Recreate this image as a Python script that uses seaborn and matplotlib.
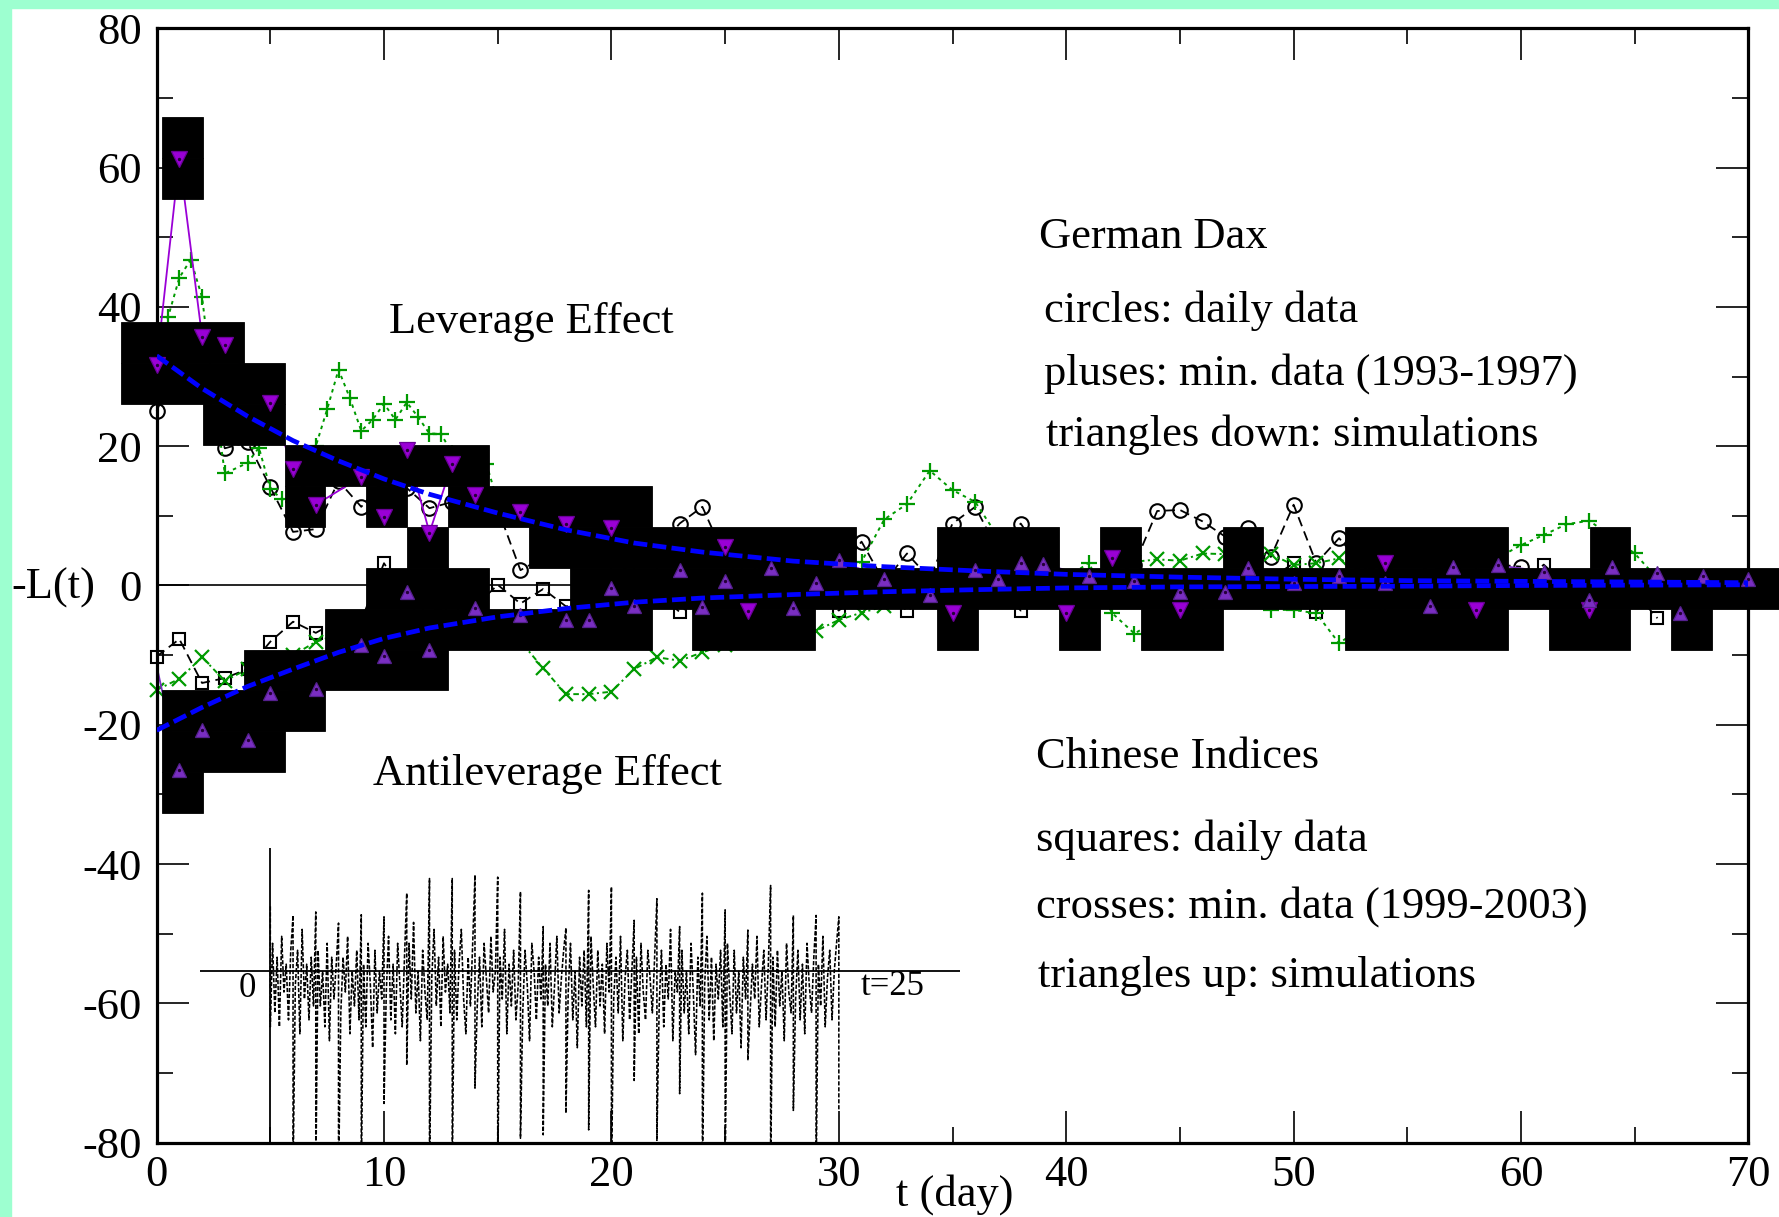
import matplotlib
matplotlib.use("Agg")
import matplotlib.pyplot as plt
from matplotlib.ticker import MultipleLocator
from matplotlib.patches import Rectangle
import numpy as np
import seaborn as sns

# ---------------- values ----------------
# German DAX, daily data (circles)
dax_daily_t = list(range(0, 61))
dax_daily_y = [25.1, 32, 30, 19.7, 20.6, 14.1, 7.7, 8.1, 15, 11.3,
               15, 14, 11.1, 12, 13, 11, 2.2, 4, 5, 4,
               5, 4, 5, 8.9, 11.3, 4, 3, 2, 3, 4,
               2, 6.3, 0.5, 4.6, 1, 8.9, 11.3, 5, 8.9, 4,
               1, 0, 2, 3, 10.7, 10.85, 9.2, 7.0, 8.2, 4.1,
               11.6, 3.2, 6.8, 3, 2, 4, 2, 3, 5, 3, 2.7]

# German DAX, minute data 1993-1997 (pluses)
dax_min_t = [0, 0.5, 1, 1.5, 2, 2.5, 3, 4, 4.5, 5, 5.5, 6, 6.5, 7, 7.5, 8,
             8.5, 9, 9.5, 10, 10.5, 11, 11.5, 12, 12.5, 13, 13.5, 14, 14.5,
             15] + list(range(16, 67))
dax_min_y = [33, 38.5, 44.2, 46.8, 41.4, 28, 16.1, 17.6, 19.8, 13.9, 12.4,
             12, 15, 20, 25.3, 31.0, 26.9, 22.2, 23.8, 26.1, 23.8, 26.3,
             24.2, 21.8, 21.8, 19, 18, 18, 17.5, 12,
             10, 7, 5, 4, 3, 2, 2, 1, 1, 0,
             0, 1, 0, 1, 2, 3.4, 9.5, 11.7, 16.5, 13.7,
             12.0, 7, 5, 3, 1, 3.3, -3.9, -6.9, -5, -3,
             -3, -1, -2, -3.5, -3.5, -4.0, -8.3, -6, -3, -1,
             0, 1, 2, 4, 5.8, 7.25, 8.8, 9.3, 7, 4.6,
             1]

# Chinese indices, daily data (squares)
cn_daily_t = list(range(0, 67))
cn_daily_y = [-10.2, -7.7, -14, -13.3, -12, -8.07, -5.2, -6.8, -5, -5,
              3.2, -2, -3, -4, -3, 0.1, -2.6, -0.5, -3.0, -2,
              -1, -2, -1, -3.8, -2, -1, -2, -1, -2, -1,
              -3.6, -1, 0, -3.7, -1, -2, -1, 0, -3.6, -1,
              0, -1, 0, -1, 0, 1, 0, -1, 0, 1,
              3.2, -3.8, 0, -1, 0, 1, 0, -1, 0, 1,
              0, 3.0, 0, -1, 0, -1, -4.7]

# Chinese indices, minute data 1999-2003 (crosses)
cn_min_t = list(range(0, 62))
cn_min_y = [-15, -13.4, -10.3, -13.7, -12, -11, -10, -8.1, -7, -6,
            -5, -6, -6, -6, -7, -6, -8, -11.9, -15.6, -15.6,
            -15.25, -12.0, -10.3, -10.8, -9.6, -8.5, -8, -7.5, -7, -6.5,
            -4.95, -3.9, -3.0, -2, -1, 0, 1, 2, 2, 1,
            0, 1, 2.5, 3.4, 3.75, 3.56, 4.6, 4.5, 4.5, 4.5,
            2.95, 3.2, 3.9, 2, 0, -1, 0, 1, 0, -1,
            0, 0]

# simulations for DAX (triangles down)
sim_down_t = [0, 1, 2, 3, 5, 6, 7, 9, 10, 11, 12, 13, 14, 16, 18, 20, 25, 26,
              35, 40, 42, 45, 54, 58, 63]
sim_down_y = [31.7, 61.3, 35.7, 34.6, 26.25, 16.8, 11.6, 15.6, 9.9, 19.5, 7.6,
              17.5, 13.0, 10.6, 8.9, 8.2, 5.6, -3.6,
              -3.9, -4.0, 4.0, -3.5, 3.3, -3.5, -3.5]
sim_down_line_n = 18          # the purple line joins the first 18 points

# simulations for Chinese indices (triangles up)
sim_up_t = [0, 1, 2, 4, 5, 7, 9, 10, 11, 12, 14, 16, 18, 19, 20, 21, 23, 24,
            25, 27, 28, 29, 30, 32, 34, 36, 37, 38, 39, 41, 43, 45, 47, 48,
            50, 52, 54, 56, 57, 59, 61, 63, 64, 66, 67, 68, 70]
sim_up_y = [-11.5, -26.5, -20.8, -22.2, -15.5, -14.8, -8.5, -10.1, -0.9, -9.3,
            -3.3, -4.2, -5.0, -5.0, -0.3, -3.0, 2.2, -3.1, 0.7, 2.5,
            -3.3, 0.3, 3.6, 1.0, -1.4, 2.2, 1.0, 3.2, 3.1, 1.3,
            0.6, -0.9, -0.9, 2.5, 0.3, 1.4, 0.3, -3.0, 2.7, 2.9,
            2.0, -2.1, 2.7, 1.75, -4.0, 1.4, 1.0]

# dashed blue fit curves, read at these days
fit_t = [0, 2, 4, 6, 8, 10, 12, 15, 18, 21, 24, 28, 32, 36, 40, 45, 50, 55,
         60, 65, 70]
lev_fit_y = [33.0, 28.3, 24.3, 20.8, 17.9, 15.3, 13.1, 10.4, 8.0, 6.1, 4.8,
             3.5, 2.7, 2.1, 1.6, 1.2, 0.9, 0.7, 0.6, 0.5, 0.4]
anti_fit_y = [-20.8, -17.5, -14.5, -12.0, -9.6, -7.6, -6.1, -4.5, -3.3, -2.4,
              -1.8, -1.3, -0.9, -0.6, -0.35, -0.2, -0.15, -0.1, 0.0, 0.05, 0.1]

# black tiles of the picture: (row, first column, last column) of a tile grid
tile_runs = [(0, 1, 1), (1, 1, 1), (5, 0, 2), (6, 0, 3), (7, 2, 3), (8, 4, 8),
             (9, 4, 4), (9, 6, 6), (9, 8, 12),
             (10, 7, 7), (10, 10, 17), (10, 20, 22), (10, 24, 24),
             (10, 27, 27), (10, 30, 33), (10, 36, 36),
             (11, 6, 8), (11, 11, 40),
             (12, 5, 12), (12, 14, 16), (12, 20, 20), (12, 23, 23),
             (12, 25, 26), (12, 30, 33), (12, 35, 36), (12, 38, 38),
             (13, 3, 7), (14, 1, 4), (15, 1, 3), (16, 1, 1)]

# inset: daily spike extremes and the noisy band in between (9 per day)
inset_top = [9.3, 8.0, 8.5, 6.9, 8.1, 7.8, 11.2, 13.3, 13.3, 13.8, 13.5, 11.4,
             6.4, 6.2, 11.6, 12.1, 7.3, 10.4, 6.4, 11.2, 8.8, 5.9, 12.3, 8.0,
             8.0, 7.8]
inset_bottom = [-8, -30, -30, -30, -30, -19, -13.5, -30, -30, -16.8, -30, -24,
                -23.5, -20.4, -22.8, -30, -15.7, -24.3, -17.6, -30, -30, -12.8,
                -30, -20, -30, -20]
inset_band = [
    [4, -6, 2, -8, 5, -3, 1, -7, 3],
    [-2, 3, -9, 6, -4, 1, -7, 2, -5],
    [3, -5, 0, -8, 4, -10, 2, -4, 1],
    [-6, 2, -3, 5, -9, 0, -5, 3, -7],
    [1, -8, 4, -2, -11, 3, -6, 0, -4],
    [-3, 5, -7, 1, -9, 4, -2, -8, 2],
    [4, -4, 7, -6, 0, -10, 3, -3, -7],
    [-1, 6, -5, 2, -8, 5, -3, 1, -6],
    [3, -7, 1, 6, -4, -9, 2, -5, 4],
    [-5, 2, -8, 4, -1, -6, 5, -3, 0],
    [2, -4, 6, -9, 1, -5, 3, -7, -2],
    [-6, 3, -2, -10, 4, 0, -7, 2, -4],
    [1, -5, 4, -8, -2, 5, -6, -1, 3],
    [-3, 4, -7, 0, -11, 2, -5, 3, -8],
    [5, -2, -8, 3, -5, 1, -9, 4, -3],
    [-4, 2, -6, 5, -10, -1, 3, -7, 0],
    [2, -9, 4, -3, -7, 3, -1, -6, 2],
    [-5, 3, -8, 1, -4, 6, -10, 0, -3],
    [3, -6, 0, -9, 4, -3, -12, 2, -5],
    [-2, 5, -7, 2, -10, 1, -4, 3, -8],
    [4, -3, -9, 3, -6, 0, -11, 2, -4],
    [-6, 1, -4, 5, -8, -2, 3, -7, 1],
    [2, -8, 3, -5, 0, -10, 4, -3, -6],
    [-4, 3, -7, 1, -9, 4, -2, -6, 2],
    [1, -5, 5, -8, -1, 3, -7, 0, 4],
]

x_ticks = [0, 10, 20, 30, 40, 50, 60, 70]
y_ticks = [-80, -60, -40, -20, 0, 20, 40, 60, 80]

# ---------------- style ----------------
sns.set_theme(style="ticks")
plt.rcParams['font.family'] = ['Liberation Serif', 'DejaVu Serif']
plt.rcParams['axes.unicode_minus'] = False
plt.rcParams['lines.scale_dashes'] = False
plt.rcParams['text.color'] = 'black'
plt.rcParams['xtick.color'] = 'black'
plt.rcParams['ytick.color'] = 'black'

GREEN = '#009a00'
PURPLE_D = '#9a00d6'
PURPLE_U = '#7a2ec2'
BLUE = '#0000ff'

# tile grid geometry (data units)
CELL_T = 1.7933
CELL_Y = 5.879
GRID_T0 = -1.544
GRID_Y0 = 67.23

fig = plt.figure(figsize=(17.79, 12.17), dpi=100, facecolor='white')
ax = fig.add_axes([0.08803, 0.06114, 0.89477, 0.91552])
ax.set_facecolor('white')

# mint frame stripes
fig.patches.append(Rectangle((0, 1 - 7.5 / 1217), 1, 7.5 / 1217,
                             transform=fig.transFigure, color='#9dffd0',
                             zorder=0))
fig.patches.append(Rectangle((0, 0), 11 / 1779, 1, transform=fig.transFigure,
                             color='#9dffd0', zorder=0))

ax.axhline(0, color='black', lw=1.2, zorder=1.8)

# data series under the tiles
sns.lineplot(x=dax_daily_t, y=dax_daily_y, ax=ax, color='black', lw=1.3,
             linestyle=(0, (7, 4)), marker='o', ms=10.5, mfc='none',
             mec='black', mew=1.5, zorder=2, clip_on=False, legend=False,
             estimator=None)
sns.lineplot(x=cn_daily_t, y=cn_daily_y, ax=ax, color='black', lw=1.3,
             linestyle=(0, (7, 4)), marker='s', ms=9, mfc='none',
             mec='black', mew=1.5, zorder=2, clip_on=False, legend=False,
             estimator=None)
sns.lineplot(x=dax_min_t, y=dax_min_y, ax=ax, color=GREEN, lw=1.4,
             linestyle=(0, (2.5, 3)), marker='+', ms=12, mec=GREEN, mew=1.6,
             zorder=2, clip_on=False, legend=False, estimator=None)
sns.lineplot(x=cn_min_t, y=cn_min_y, ax=ax, color=GREEN, lw=1.4,
             linestyle=(0, (4, 2.5, 1.5, 2.5)), marker='x', ms=10, mec=GREEN,
             mew=1.6, zorder=2, clip_on=False, legend=False, estimator=None)
sns.lineplot(x=sim_down_t[:sim_down_line_n], y=sim_down_y[:sim_down_line_n],
             ax=ax, color=PURPLE_D, lw=1.3, zorder=2.2, legend=False,
             estimator=None)
sns.lineplot(x=sim_up_t, y=sim_up_y, ax=ax, color=PURPLE_U, lw=1.3,
             zorder=2.2, legend=False, estimator=None)

# black tiles
t_left = [GRID_T0 + c0 * CELL_T for r, c0, c1 in tile_runs]
t_width = [(c1 - c0 + 1) * CELL_T for r, c0, c1 in tile_runs]
y_bottom = [GRID_Y0 - (r + 1) * CELL_Y for r, c0, c1 in tile_runs]
ax.bar(t_left, [CELL_Y] * len(tile_runs), width=t_width, bottom=y_bottom,
       align='edge', color='black', edgecolor='black', linewidth=0.6,
       zorder=3, clip_on=False)

# triangles on top of tiles
sns.lineplot(x=sim_down_t, y=sim_down_y, ax=ax, lw=0, marker='v', ms=11,
             mfc=PURPLE_D, mec='#6a0098', mew=0.9, zorder=4, clip_on=False,
             legend=False, estimator=None, color=PURPLE_D)
sns.lineplot(x=sim_up_t[1:], y=sim_up_y[1:], ax=ax, lw=0, marker='^', ms=10.5,
             mfc=PURPLE_U, mec='#55208e', mew=0.9, zorder=4, clip_on=False,
             legend=False, estimator=None, color=PURPLE_U)
sns.scatterplot(x=sim_down_t + sim_up_t[1:], y=sim_down_y + sim_up_y[1:],
                ax=ax, s=6, color='#25003a', linewidth=0, zorder=4.5,
                clip_on=False, legend=False)

# fit curves
sns.lineplot(x=fit_t, y=lev_fit_y, ax=ax, color=BLUE, lw=3.4,
             linestyle=(0, (10, 3.8)), zorder=5, legend=False, estimator=None)
sns.lineplot(x=fit_t, y=anti_fit_y, ax=ax, color=BLUE, lw=3.4,
             linestyle=(0, (10, 3.8)), zorder=5, legend=False, estimator=None)

# axes
ax.set_xlim(0, 70)
ax.set_ylim(-80, 80)
ax.set_xticks(x_ticks)
ax.set_yticks(y_ticks)
ax.set_xticklabels([str(v) for v in x_ticks])
ax.set_yticklabels([str(v) for v in y_ticks])
ax.xaxis.set_minor_locator(MultipleLocator(5))
ax.yaxis.set_minor_locator(MultipleLocator(10))
ax.tick_params(which='both', direction='in', top=True, right=True,
               bottom=True, left=True, width=1.2, color='black')
ax.tick_params(which='major', length=23)
ax.tick_params(which='minor', length=11.5)
ax.tick_params(axis='x', which='major', labelsize=32, pad=9)
ax.tick_params(axis='y', which='major', labelsize=32, pad=10.5)
ax.set_xlabel('')
ax.set_ylabel('')
for s in ax.spines.values():
    s.set_linewidth(2.3)
    s.set_color('black')
    s.set_visible(True)

# texts
FS = 32
fig.text(0.21866, 0.72638, 'Leverage Effect', fontsize=FS, va='baseline')
fig.text(0.58403, 0.79647, 'German Dax', fontsize=FS, va='baseline')
fig.text(0.58685, 0.73525, 'circles: daily data', fontsize=FS, va='baseline')
fig.text(0.58685, 0.68389, 'pluses: min. data (1993-1997)', fontsize=FS,
         va='baseline')
fig.text(0.58797, 0.63377, 'triangles down: simulations', fontsize=FS,
         va='baseline')
fig.text(0.20984, 0.35497, 'Antileverage Effect', fontsize=FS, va='baseline')
fig.text(0.58229, 0.36869, 'Chinese Indices', fontsize=FS, va='baseline')
fig.text(0.58229, 0.30099, 'squares: daily data', fontsize=FS, va='baseline')
fig.text(0.58229, 0.24593, 'crosses: min. data (1999-2003)', fontsize=FS,
         va='baseline')
fig.text(0.58358, 0.18924, 'triangles up: simulations', fontsize=FS,
         va='baseline')
fig.text(0.00637, 0.50805, '-L(t)', fontsize=FS, va='baseline')
fig.text(0.5368, 0.0095, 't (day)', fontsize=FS, va='baseline', ha='center')

# inset
ax_in = fig.add_axes([0.11225, 0.06114, 0.42715, 0.24183])
ax_in.set_xlim(-3.105, 30.31)
ax_in.set_ylim(-24.62, 17.64)
ax_in.axis('off')
ax_in.patch.set_alpha(0)
ax_in.axhline(0, color='black', lw=1.3)
ax_in.axvline(0, color='black', lw=1.3)
in_t, in_v = [], []
for d in range(len(inset_band)):
    in_t += [d, d]
    in_v += [inset_top[d], inset_bottom[d]]
    for k, v in enumerate(inset_band[d]):
        in_t.append(d + 0.1 * (k + 1))
        in_v.append(v)
in_t += [25, 25]
in_v += [inset_top[25], inset_bottom[25]]
ax_in.plot(in_t, in_v, color='black', lw=1.15, linestyle=(0, (3, 1.3)))
ax_in.text(-1.03, -2.5, '0', fontsize=25, ha='center', va='center')
ax_in.text(25.97, -2.25, 't=25', fontsize=25, ha='left', va='center')

fig.savefig('out.png', dpi=100, facecolor='white')
